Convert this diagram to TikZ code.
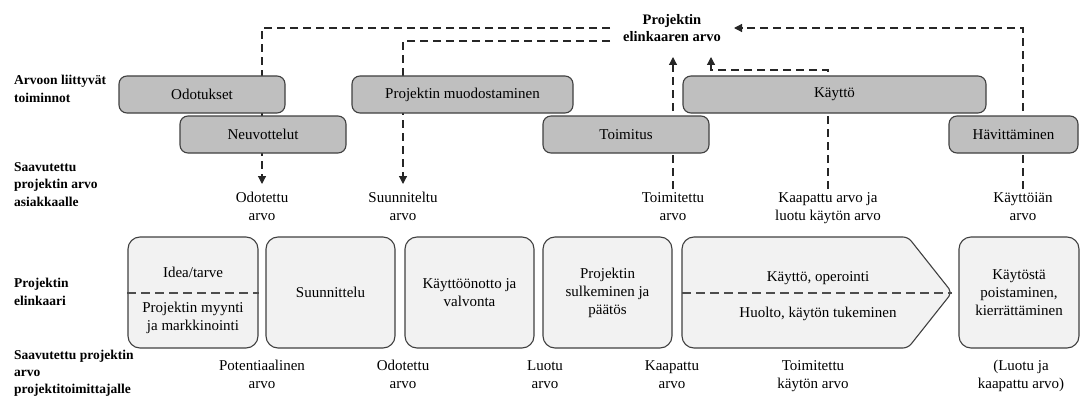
\documentclass[tikz,border=0pt]{standalone}
\usepackage{fontspec}
\setmainfont{Liberation Serif}
\usetikzlibrary{arrows.meta}
\definecolor{edge}{HTML}{404040}
\definecolor{topfill}{HTML}{BFBFBF}
\definecolor{lcfill}{HTML}{F2F2F2}
\definecolor{conncol}{HTML}{262626}
\definecolor{divcol}{HTML}{4D4D4D}
\begin{document}
\begin{tikzpicture}[x=1pt,y=-1pt,
  txt/.style={font=\fontsize{15}{18}\selectfont, align=center, inner sep=0pt},
  head/.style={font=\bfseries\fontsize{13.5}{17.5}\selectfont, align=left, anchor=north west, inner sep=0pt},
  actbox/.style={txt, draw=edge, fill=topfill, line width=1.1pt, rounded corners=8pt, minimum height=37pt},
  lcshape/.style={draw=edge, fill=lcfill, line width=1.1pt},
  lcbox/.style={txt, lcshape, rounded corners=12pt, minimum height=111pt},
  conn/.style={draw=conncol, line width=1.2pt, dash pattern=on 8pt off 5pt},
  tip/.style={-{Triangle[length=8pt,width=8pt]}},
  divider/.style={draw=divcol, line width=2pt, dash pattern=on 9pt off 5pt},
]
\useasboundingbox (0,0) rectangle (1082,396);

% row headings
\node[head] (h1) at (14,75)  {Arvoon liittyvät\\toiminnot};
\node[head] (h2) at (14,162) {Saavutettu\\projektin arvo\\asiakkaalle};
\node[head] (h3) at (14,278) {Projektin\\elinkaari};
\node[head, font=\bfseries\fontsize{13.5}{16.8}\selectfont] (h4) at (14,350)
  {Saavutettu projektin\\arvo\\projektitoimittajalle};

% overall value label
\node[font=\bfseries\fontsize{14.5}{17.5}\selectfont, align=center,
      inner xsep=13pt, inner ysep=0pt] (lab) at (672,28) {Projektin\\elinkaaren arvo};

% value for the customer
\node[txt, anchor=north] (c1) at (262,192)  {Odotettu\\arvo};
\node[txt, anchor=north] (c2) at (403,192)  {Suunniteltu\\arvo};
\node[txt, anchor=north] (c3) at (673,192)  {Toimitettu\\arvo};
\node[txt, anchor=north] (c4) at (828,192)  {Kaapattu arvo ja\\luotu käytön arvo};
\node[txt, anchor=north] (c5) at (1023,192) {Käyttöiän\\arvo};

% value for the project supplier
\node[txt, anchor=north] (p1) at (262,360)  {Potentiaalinen\\arvo};
\node[txt, anchor=north] (p2) at (403,360)  {Odotettu\\arvo};
\node[txt, anchor=north] (p3) at (545,360)  {Luotu\\arvo};
\node[txt, anchor=north] (p4) at (672,360)  {Kaapattu\\arvo};
\node[txt, anchor=north] (p5) at (813,360)  {Toimitettu\\käytön arvo};
\node[txt, anchor=north] (p6) at (1021,360) {(Luotu ja\\kaapattu arvo)};

% free ends of the upward arrows
\coordinate (t3) at (673,57);
\coordinate (k4) at (828,70);
\coordinate (t4) at (711,57);

% dashed value flows (drawn below the activity boxes)
\draw[conn,tip] (lab.west) -| ([yshift=8pt]c1.north);
\draw[conn,tip] ([yshift=-13pt]lab.west) -| ([yshift=8pt]c2.north);
\draw[conn,tip,shorten <=3pt] (c3.north) -- (t3);
\draw[conn,tip,shorten <=3pt] (c4.north) -- (k4) -| (t4);
\draw[conn,tip,shorten <=3pt] (c5.north) |- (lab.east);

% activities related to value
\node[actbox, minimum width=166pt] (odo) at (202,94.5)    {Odotukset};
\node[actbox, minimum width=221pt] (muo) at (462.5,94.5)  {Projektin muodostaminen};
\node[actbox, minimum width=303pt] (kay) at (834.5,94.5)  {Käyttö};
\node[actbox, minimum width=166pt] (neu) at (263,134.5)   {Neuvottelut};
\node[actbox, minimum width=166pt] (toi) at (626,134.5)   {Toimitus};
\node[actbox, minimum width=129pt] (hav) at (1013.5,134.5){Hävittäminen};

% project life cycle
\node[lcbox, minimum width=130pt] (b1) at (193,292.5) {};
\node[txt] (b1a) at (193,272) {Idea/tarve};
\node[txt] (b1b) at (193,318) {Projektin myynti\\ja markkinointi};
\draw[divider] (b1.west) -- (b1.east);

\node[lcbox, minimum width=129pt] (b2) at (330.5,292.5) {Suunnittelu};
\node[lcbox, minimum width=129pt] (b3) at (469.5,292.5) {Käyttöönotto ja\\valvonta};
\node[lcbox, minimum width=129pt] (b4) at (607.5,292.5) {Projektin\\sulkeminen ja\\päätös};

\coordinate (b5w) at (682,292.5);
\coordinate (b5tip) at (952,292.5);
\filldraw[lcshape] (b5w) [rounded corners=12pt] -- (682,237) [rounded corners=5pt] -- (908,237)
  -- (b5tip) -- (908,348) [rounded corners=12pt] -- (682,348) -- cycle;
\draw[divider] (b5w) -- (b5tip);
\node[txt] (b5a) at (818,278) {Käyttö, operointi};
\node[txt] (b5b) at (818,314) {Huolto, käytön tukeminen};

\node[lcbox, minimum width=120pt] (b6) at (1019,292.5) {Käytöstä\\poistaminen,\\kierrättäminen};
\end{tikzpicture}
\end{document}
